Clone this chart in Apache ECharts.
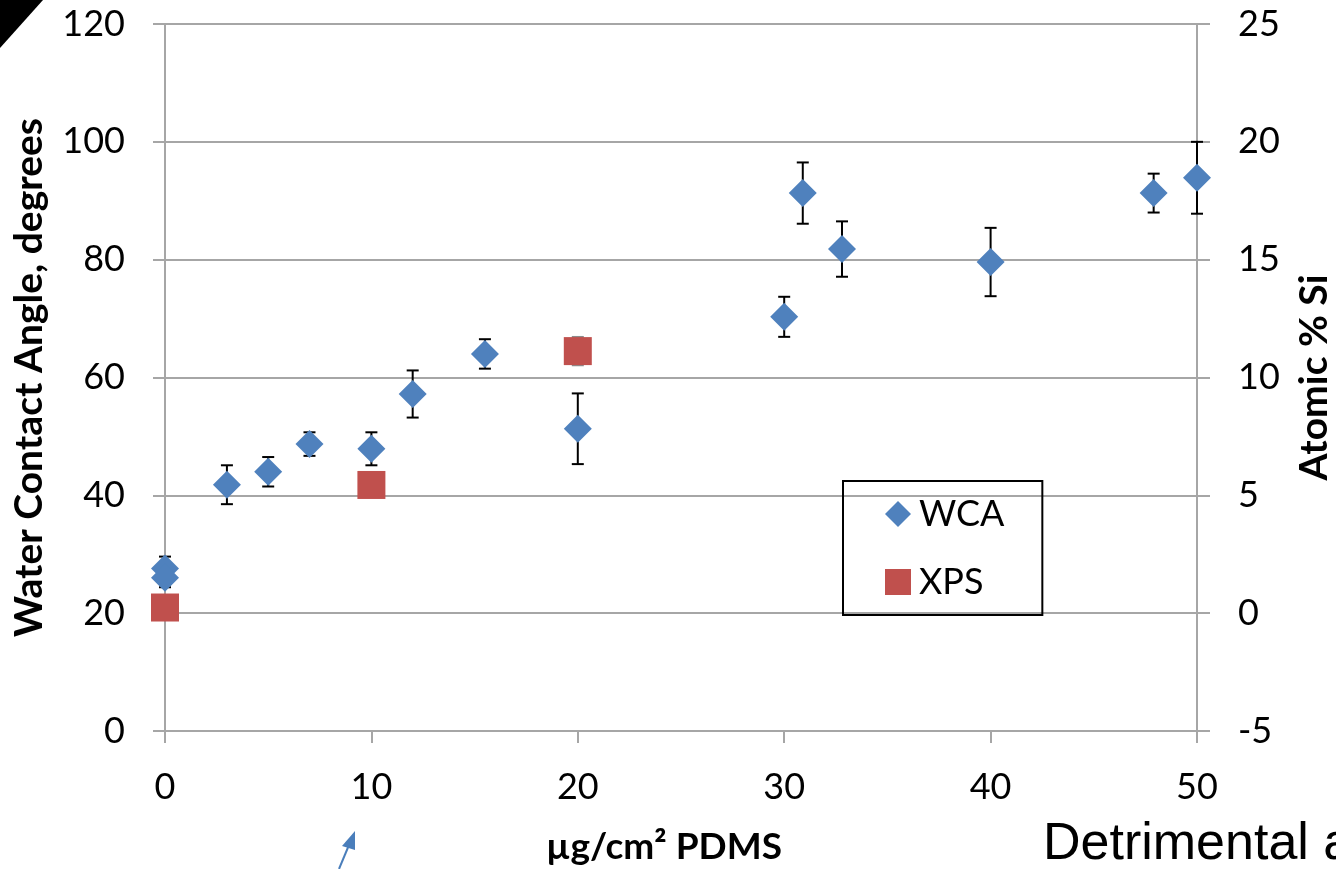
<!DOCTYPE html>
<html>
<head>
<meta charset="utf-8">
<script src="https://cdn.jsdelivr.net/npm/echarts@6/dist/echarts.min.js"></script>
<style>
html,body{margin:0;padding:0;background:#fff;}
#chart{width:1336px;height:869px;}
</style>
</head>
<body>
<div id="chart"></div>
<script>
// ---- Data ----
const wcaX   = [0, 0, 3, 5, 7, 10, 12, 15.5, 20, 30, 30.9, 32.8, 40, 47.9, 50];
const wcaY   = [27.6, 26.0, 41.8, 44.0, 48.7, 47.9, 57.2, 64.0, 51.3, 70.3, 91.3, 81.8, 79.6, 91.3, 93.9];
const wcaErr = [2.0, 1.6, 3.3, 2.5, 2.0, 2.8, 4.0, 2.5, 6.0, 3.4, 5.2, 4.7, 5.8, 3.3, 6.1];
const xpsX   = [0, 10, 20];
const xpsY   = [0.24, 5.44, 11.12];
const xpsErr = [0, 0, 0.6];
const xTicks = [0, 10, 20, 30, 40, 50];
const leftTicks = [0, 20, 40, 60, 80, 100, 120];
const rightTicks = [-5, 0, 5, 10, 15, 20, 25];

const FONT = 'Lato, "Open Sans", sans-serif';
const BLUE = '#4F81BD';
const RED = '#C0504D';
const GRID = '#A6A6A6';

function errBar(color) {
  return function (params, api) {
    const x = api.value(0), y = api.value(1), e = api.value(2);
    if (!e) return null;
    const t = api.coord([x, y + e]);
    const b = api.coord([x, y - e]);
    const hw = 6;
    const st = { stroke: color, lineWidth: 2 };
    return {
      type: 'group',
      children: [
        { type: 'line', shape: { x1: t[0], y1: t[1], x2: b[0], y2: b[1] }, style: st },
        { type: 'line', shape: { x1: t[0] - hw, y1: t[1], x2: t[0] + hw, y2: t[1] }, style: st },
        { type: 'line', shape: { x1: b[0] - hw, y1: b[1], x2: b[0] + hw, y2: b[1] }, style: st }
      ]
    };
  };
}

const chart = echarts.init(document.getElementById('chart'), null, { renderer: 'canvas' });
chart.setOption({
  animation: false,
  backgroundColor: '#fff',
  textStyle: { fontFamily: FONT, color: '#000' },
  grid: { left: 165, right: 139, top: 24, bottom: 138, containLabel: false, outerBoundsMode: 'none' },
  xAxis: {
    type: 'value', min: xTicks[0], max: xTicks[xTicks.length - 1], interval: 10,
    name: 'µg/cm² PDMS', nameLocation: 'middle', nameGap: 98,
    nameTextStyle: { fontFamily: FONT, fontWeight: 'bold', fontSize: 37, color: '#000', padding: [0, 34, 0, 0] },
    axisLine: { show: true, lineStyle: { color: GRID, width: 2 } },
    axisTick: { show: true, length: 12, lineStyle: { color: GRID, width: 2 } },
    axisLabel: { fontFamily: FONT, fontSize: 36, color: '#000', margin: 38 },
    splitLine: { show: false }
  },
  yAxis: [
    {
      type: 'value', min: leftTicks[0], max: leftTicks[leftTicks.length - 1], interval: 20,
      position: 'left',
      name: 'Water Contact Angle, degrees', nameLocation: 'middle', nameGap: 116, nameRotate: 90,
      nameTextStyle: { fontFamily: FONT, fontWeight: 'bold', fontSize: 39, color: '#000' },
      axisLine: { show: true, lineStyle: { color: GRID, width: 2 } },
      axisTick: { show: true, length: 12, lineStyle: { color: GRID, width: 2 } },
      axisLabel: { fontFamily: FONT, fontSize: 36, color: '#000', margin: 40 },
      splitLine: { show: true, lineStyle: { color: GRID, width: 2 } }
    },
    {
      type: 'value', min: rightTicks[0], max: rightTicks[rightTicks.length - 1], interval: 5,
      position: 'right',
      name: 'Atomic % Si', nameLocation: 'middle', nameGap: 98, nameRotate: 90,
      nameTextStyle: { fontFamily: FONT, fontWeight: 'bold', fontSize: 39, color: '#000' },
      axisLine: { show: true, lineStyle: { color: GRID, width: 2 } },
      axisTick: { show: true, length: 13, lineStyle: { color: GRID, width: 2 } },
      axisLabel: { fontFamily: FONT, fontSize: 36, color: '#000', margin: 41 },
      splitLine: { show: false }
    }
  ],
  legend: {
    data: [{ name: 'WCA', icon: 'diamond' }, { name: 'XPS', icon: 'rect' }],
    orient: 'vertical', left: 843, top: 481,
    padding: [15, 38, 15, 42],
    itemWidth: 26, itemHeight: 26, itemGap: 32,
    borderColor: '#000', borderWidth: 2, backgroundColor: 'transparent',
    textStyle: { fontFamily: FONT, fontSize: 36, lineHeight: 36, color: '#000', padding: [0, 0, 0, 3] }
  },
  series: [
    {
      type: 'custom', name: 'WCA err', yAxisIndex: 0, z: 2, clip: false,
      encode: { x: 0, y: 1 },
      data: wcaX.map((x, i) => [x, wcaY[i], wcaErr[i]]),
      renderItem: errBar('#000')
    },
    {
      type: 'custom', name: 'XPS err', yAxisIndex: 1, z: 2, clip: false,
      encode: { x: 0, y: 1 },
      data: xpsX.map((x, i) => [x, xpsY[i], xpsErr[i]]),
      renderItem: errBar('#8C8C8C')
    },
    {
      type: 'scatter', name: 'XPS', yAxisIndex: 1, z: 3, clip: false,
      symbol: 'rect', symbolSize: 28,
      itemStyle: { color: RED, opacity: 1 },
      data: xpsX.map((x, i) => [x, xpsY[i]])
    },
    {
      type: 'scatter', name: 'WCA', yAxisIndex: 0, z: 4, clip: false,
      symbol: 'diamond', symbolSize: 28,
      itemStyle: { color: BLUE, opacity: 1 },
      data: wcaX.map((x, i) => [x, wcaY[i]])
    }
  ],
  graphic: [
    { type: 'polygon', shape: { points: [[0, 0], [43, 0], [0, 48]] }, style: { fill: '#000' } },
    { type: 'line', shape: { x1: 339, y1: 869, x2: 349, y2: 845 }, style: { stroke: '#4A7EBB', lineWidth: 2 } },
    { type: 'polygon', shape: { points: [[355, 831], [342, 846], [355, 850]] }, style: { fill: '#4A7EBB' } },
    { type: 'text', left: 1043, top: 819, style: { text: 'Detrimental a', font: '52px "Liberation Sans", Arial, sans-serif', fill: '#000' } }
  ]
});
</script>
</body>
</html>
